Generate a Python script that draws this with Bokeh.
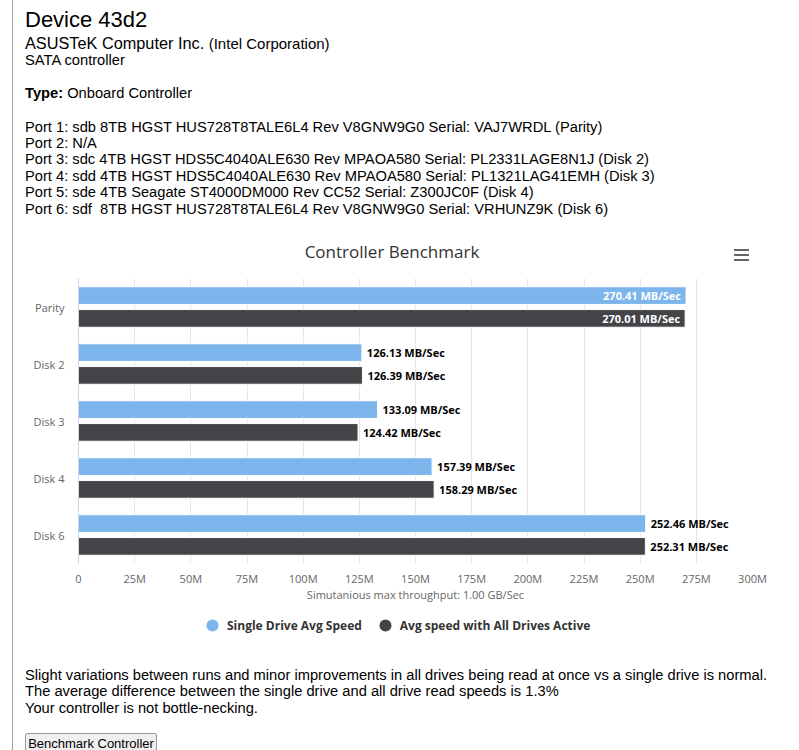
from bokeh.plotting import figure
from bokeh.models import (Range1d, FactorRange, FixedTicker, Legend, LegendItem,
                          ColumnDataSource, Div)
from bokeh.layouts import column, row
from bokeh.transform import dodge
from bokeh.core.properties import value
from bokeh.embed import file_html
from bokeh.resources import INLINE

# ---------------- data ----------------
categories = ["Parity", "Disk 2", "Disk 3", "Disk 4", "Disk 6"]
single_speed = [270.41, 126.13, 133.09, 157.39, 252.46]
all_speed = [270.01, 126.39, 124.42, 158.29, 252.31]
series_names = ["Single Drive Avg Speed", "Avg speed with All Drives Active"]
series_colors = ["#7cb5ec", "#434348"]
x_ticks = [0, 25, 50, 75, 100, 125, 150, 175, 200, 225, 250, 275, 300]
x_tick_labels = ["0", "25M", "50M", "75M", "100M", "125M", "150M", "175M",
                 "200M", "225M", "250M", "275M", "300M"]
chart_title = "Controller Benchmark"
x_axis_title = "Simutanious max throughput: 1.00 GB/Sec"

header_title = "Device 43d2"
vendor = "ASUSTeK Computer Inc."
vendor_sub = "(Intel Corporation)"
device_class = "SATA controller"
type_label = "Type:"
type_value = "Onboard Controller"
port_lines = [
    "Port 1: sdb 8TB HGST HUS728T8TALE6L4 Rev V8GNW9G0 Serial: VAJ7WRDL (Parity)",
    "Port 2: N/A",
    "Port 3: sdc 4TB HGST HDS5C4040ALE630 Rev MPAOA580 Serial: PL2331LAGE8N1J (Disk 2)",
    "Port 4: sdd 4TB HGST HDS5C4040ALE630 Rev MPAOA580 Serial: PL1321LAG41EMH (Disk 3)",
    "Port 5: sde 4TB Seagate ST4000DM000 Rev CC52 Serial: Z300JC0F (Disk 4)",
    "Port 6: sdf  8TB HGST HUS728T8TALE6L4 Rev V8GNW9G0 Serial: VRHUNZ9K (Disk 6)",
]
footer_lines = [
    "Slight variations between runs and minor improvements in all drives being read at once vs a single drive is normal.",
    "The average difference between the single drive and all drive read speeds is 1.3%",
    "Your controller is not bottle-necking.",
]
button_text = "Benchmark Controller"

# ---------------- layout constants (page px) ----------------
W, H = 799, 750
X0 = 13                      # left edge of content (rule at x=12)
CW = W - X0                  # content width
HEAD_H = 278                 # header height == chart frame top
FIG_BOTTOM = 605
LEG_BOTTOM = 645
FL, FR, FT, FB = 78, 752, 278, 563
XMAX = 300
BODY_FONT = "'Liberation Sans', Arial, sans-serif"
CHART_FONT = "'Open Sans', sans-serif"
BODY_SIZE = 14.7


def line_div(x, yc, text, size, lh=17, weight="normal", color="#000", font=BODY_FONT,
             extra=""):
    return ('<div style="position:absolute;left:%dpx;top:%.1fpx;font-family:%s;'
            'font-size:%.1fpx;line-height:%dpx;font-weight:%s;color:%s;white-space:pre;%s">%s</div>'
            % (x - X0, yc - lh / 2.0, font, size, lh, weight, color, extra, text))


# ---------------- header ----------------
parts = [line_div(25, 20, header_title, 22, lh=26),
         line_div(25, 43, vendor + ' <span style="font-size:15px">' + vendor_sub + '</span>', 16.3, lh=19),
         line_div(25, 60, device_class, BODY_SIZE),
         line_div(25, 93, '<b>' + type_label + '</b> ' + type_value, BODY_SIZE)]
for i, ln in enumerate(port_lines):
    parts.append(line_div(25, 127 + 16.4 * i, ln, BODY_SIZE))
parts.append(line_div(292, 252, chart_title, 17, lh=24, color="#333333", font=CHART_FONT,
                      extra="width:200px;text-align:center;"))
for yy in (249, 254, 259):
    parts.append('<div style="position:absolute;left:%dpx;top:%dpx;width:15px;height:2px;'
                 'background:#666666"></div>' % (734 - X0, yy))
header = Div(text='<div style="position:relative;width:%dpx;height:%dpx;overflow:hidden">%s</div>'
             % (CW, HEAD_H, "".join(parts)), width=CW, height=HEAD_H, margin=0)

# ---------------- chart ----------------
p = figure(width=CW, height=FIG_BOTTOM - HEAD_H,
           x_range=Range1d(0, XMAX),
           y_range=FactorRange(factors=categories[::-1]),
           output_backend="svg", toolbar_location=None,
           min_border_left=FL - X0, min_border_right=W - FR,
           min_border_top=0, min_border_bottom=FIG_BOTTOM - FB, margin=0)
p.outline_line_color = None
p.background_fill_color = "white"
p.border_fill_color = "white"

src = ColumnDataSource(dict(cat=categories, single=single_speed, all=all_speed))
p.hbar(y=dodge("cat", 0.2, range=p.y_range), left=0, right="single", height=0.31,
       source=src, fill_color=series_colors[0], line_color="white", line_width=1)
p.hbar(y=dodge("cat", -0.2, range=p.y_range), left=0, right="all", height=0.31,
       source=src, fill_color=series_colors[1], line_color="white", line_width=1)

# data labels: inside the bar when they would not fit outside
px_per_unit = (FR - FL) / XMAX
label_px = 80
for key, off in (("single", 0.2), ("all", -0.2)):
    vals = src.data[key]
    ins = [i for i, v in enumerate(vals) if v * px_per_unit + 5 + label_px > FR - FL]
    out = [i for i in range(len(vals)) if i not in ins]
    for idx, inside in ((out, False), (ins, True)):
        if not idx:
            continue
        s = ColumnDataSource(dict(cat=[categories[i] for i in idx],
                                  v=[vals[i] for i in idx],
                                  t=["%.2f MB/Sec" % vals[i] for i in idx]))
        kw = dict(text_color="white", text_align="right", x_offset=-5) if inside else \
            dict(text_color="#000000", text_align="left", x_offset=5)
        p.text(x="v", y=dodge("cat", off, range=p.y_range), text="t", source=s,
               text_font=value("Open Sans"), text_font_style="bold",
               text_font_size="11px", text_baseline="middle", **kw)

xa = p.xaxis[0]
xa.ticker = FixedTicker(ticks=x_ticks)
xa.major_label_overrides = dict(zip(x_ticks, x_tick_labels))
xa.axis_line_color = None
xa.major_tick_line_color = None
xa.minor_tick_line_color = None
xa.major_tick_out = 0
xa.major_tick_in = 0
xa.major_label_text_font = "Open Sans"
xa.major_label_text_font_size = "11px"
xa.major_label_text_color = "#666666"
xa.major_label_standoff = 7
xa.axis_label = x_axis_title
xa.axis_label_text_font = "Open Sans"
xa.axis_label_text_font_size = "11px"
xa.axis_label_text_font_style = "normal"
xa.axis_label_text_color = "#666666"
xa.axis_label_standoff = -2

ya = p.yaxis[0]
ya.axis_line_color = "#ccd6eb"
ya.major_tick_line_color = None
ya.minor_tick_line_color = None
ya.major_tick_out = 0
ya.major_tick_in = 0
ya.major_label_text_font = "Open Sans"
ya.major_label_text_font_size = "11px"
ya.major_label_text_color = "#666666"
ya.major_label_standoff = 14

p.xgrid.grid_line_color = "#e6e6e6"
p.ygrid.grid_line_color = None

# ---------------- legend strip (its frame is aligned with the chart frame) ----------------
lg = figure(width=CW, height=LEG_BOTTOM - FIG_BOTTOM, x_range=Range1d(0, 1), y_range=Range1d(0, 1),
            output_backend="svg", toolbar_location=None, x_axis_location=None,
            y_axis_location=None, min_border=0, margin=0)
lg.outline_line_color = None
lg.grid.grid_line_color = None
lg.border_fill_color = "white"
nan = float("nan")
r1 = lg.scatter(x=[nan], y=[nan], marker="circle", size=12,
                fill_color=series_colors[0], line_color=None)
r2 = lg.scatter(x=[nan], y=[nan], marker="circle", size=12,
                fill_color=series_colors[1], line_color=None)
legend = Legend(items=[LegendItem(label=series_names[0], renderers=[r1]),
                       LegendItem(label=series_names[1], renderers=[r2])],
                orientation="horizontal", location=(197 - FL, 5),
                glyph_width=30, glyph_height=30, label_standoff=-3, spacing=8,
                padding=0, margin=0, border_line_color=None, background_fill_alpha=0,
                label_text_font="Open Sans", label_text_font_style="bold",
                label_text_font_size="12px", label_text_color="#333333")
lg.add_layout(legend)

# ---------------- footer ----------------
FOOT_H = H - LEG_BOTTOM
fparts = []
for i, ln in enumerate(footer_lines):
    fparts.append(line_div(25, 675 + 16.5 * i - LEG_BOTTOM, ln, BODY_SIZE))
fparts.append('<div style="position:absolute;left:%dpx;top:%dpx;width:132px;height:24px;'
              'box-sizing:border-box;background:#efefef;border:1px solid #9a9a9a;border-radius:2px;'
              'font-family:%s;font-size:13px;line-height:20px;text-align:center;color:#000">%s</div>'
              % (25 - X0, 733 - LEG_BOTTOM, BODY_FONT, button_text))
footer = Div(text='<div style="position:relative;width:%dpx;height:%dpx;overflow:hidden">%s</div>'
             % (CW, FOOT_H, "".join(fparts)), width=CW, height=FOOT_H, margin=0)

rule = Div(text='<div style="position:relative;width:%dpx;height:%dpx">'
                '<div style="position:absolute;left:12px;top:0;width:1px;height:%dpx;background:#a0a0a0"></div></div>'
                % (X0, H, H), width=X0, height=H, margin=0)

page = row(rule, column(header, p, lg, footer, spacing=0, margin=0), spacing=0, margin=0)

open("out.html", "w").write(file_html(page, INLINE))
